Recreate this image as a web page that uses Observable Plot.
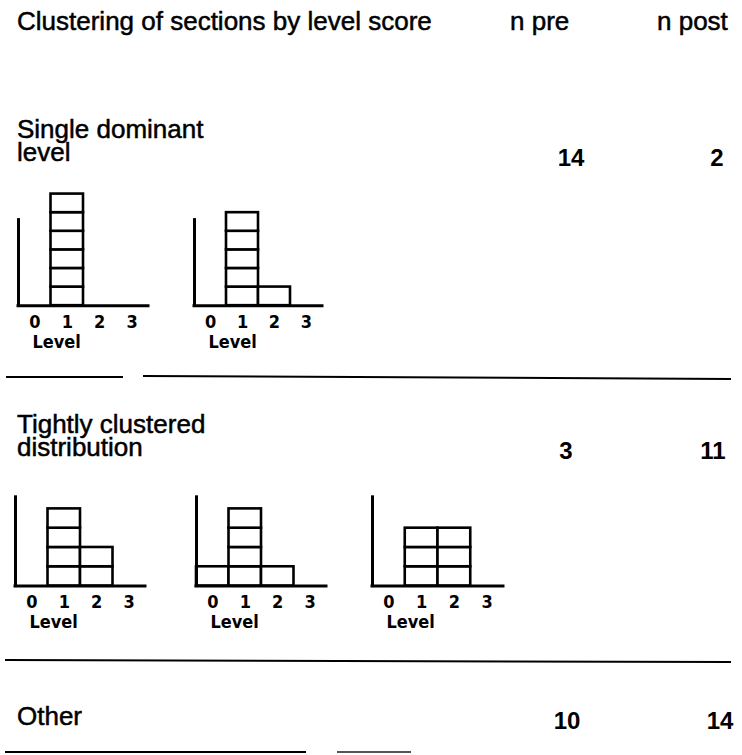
<!DOCTYPE html>
<html>
<head>
<meta charset="utf-8">
<script src="https://cdn.jsdelivr.net/npm/d3@7"></script>
<script src="https://cdn.jsdelivr.net/npm/@observablehq/plot@0.6"></script>
<style>
  html, body { margin: 0; padding: 0; background: #fff; }
  #page { position: relative; width: 742px; height: 755px; overflow: hidden; background: #fff; }
  .t { position: absolute; font-family: "Liberation Sans", Arial, sans-serif; font-size: 26px; line-height: 23px; color: #000; white-space: pre; -webkit-text-stroke: 0.5px #000; }
  .num { position: absolute; font-family: "Liberation Sans", Arial, sans-serif; font-weight: bold; font-size: 24px; line-height: 24px; color: #000; transform: translateX(-50%); }
  .rule { position: absolute; height: 0; border-top: 2.5px solid #000; transform-origin: 0 0; }
</style>
</head>
<body>
<div id="page"></div>
<script>
// ---- data ----
const title = "Clustering of sections by level score";
const colHeaders = ["n pre", "n post"];
const rowLabels = ["Single dominant\nlevel", "Tightly clustered\ndistribution", "Other"];
const nPre = [14, 3, 10];
const nPost = [2, 11, 14];
const levels = [0, 1, 2, 3];
const levelLabel = "Level";
const histSingleA = [0, 6, 0, 0];
const histSingleB = [0, 5, 1, 0];
const histTightA = [0, 4, 2, 0];
const histTightB = [1, 4, 1, 0];
const histTightC = [0, 3, 3, 0];

// ---- layout ----
const page = document.getElementById("page");
function addText(cls, txt, left, top) {
  const d = document.createElement("div");
  d.className = cls; d.textContent = txt;
  d.style.left = left + "px"; d.style.top = top + "px";
  page.appendChild(d);
  return d;
}
function addRule(x1, y1, x2, y2, color) {
  const d = document.createElement("div");
  d.className = "rule";
  const len = Math.hypot(x2 - x1, y2 - y1);
  d.style.left = x1 + "px"; d.style.top = (y1 - 1.25) + "px";
  d.style.width = len + "px";
  d.style.transform = `rotate(${Math.atan2(y2 - y1, x2 - x1)}rad)`;
  if (color) d.style.borderTopColor = color;
  page.appendChild(d);
}

// header
addText("t", title, 17, 10);
addText("t", colHeaders[0], 510, 10);
addText("t", colHeaders[1], 657, 10);

// rows
const rowTops = [118, 413, 705];
const preX = [571, 566, 567];
const postX = [717, 713, 720];
const numTops = [146, 439, 709];
rowLabels.forEach((lab, i) => {
  addText("t", lab, 17, rowTops[i]);
  addText("num", String(nPre[i]), preX[i], numTops[i]);
  addText("num", String(nPost[i]), postX[i], numTops[i]);
});

// separators
addRule(6, 377, 123, 377);
addRule(143, 376, 731, 379);
addRule(5, 660, 731, 662);
addRule(5, 752, 306, 752);
addRule(337, 752, 411, 752, "#555");

// ---- histograms ----
const tickFont = "'Liberation Sans Narrow', 'DejaVu Sans Condensed', 'Liberation Sans', sans-serif";
function hist(counts, axisX, baseline, bw, unit) {
  const boxes = counts.flatMap((c, level) => d3.range(1, c + 1).map(k => ({level, k})));
  const ml = 6, mr = 6, mt = 4, mb = 56, ymax = 6.3, axisTop = 4.6;
  const width = ml + 4 * bw + mr;
  const height = mt + ymax * unit + mb;
  const svg = Plot.plot({
    width, height,
    marginLeft: ml, marginRight: mr, marginTop: mt, marginBottom: mb,
    x: {domain: [-0.5, 3.5], axis: null},
    y: {domain: [0, ymax], axis: null},
    style: {background: "transparent", overflow: "visible"},
    marks: [
      Plot.rect(boxes, {
        x1: d => d.level - 0.5, x2: d => d.level + 0.5,
        y1: d => d.k - 1, y2: d => d.k,
        fill: "white", stroke: "black", strokeWidth: 2.6
      }),
      Plot.ruleX([-0.5], {y1: 0, y2: axisTop, stroke: "black", strokeWidth: 3, strokeLinecap: "square"}),
      Plot.ruleY([0], {x1: -0.5, x2: 3.5, stroke: "black", strokeWidth: 3, strokeLinecap: "square"}),
      Plot.text(levels, {
        x: d => d, y: () => 0, text: d => String(d),
        dy: 22, lineAnchor: "bottom",
        fontSize: 18, fontWeight: "bold", fontFamily: tickFont, fill: "black"
      }),
      Plot.text([levelLabel], {
        x: () => -0.5, y: () => 0, text: d => d,
        dx: 14, dy: 42, textAnchor: "start", lineAnchor: "bottom",
        fontSize: 18, fontWeight: "bold", fontFamily: tickFont, fill: "black"
      })
    ]
  });
  svg.style.position = "absolute";
  svg.style.left = (axisX - ml) + "px";
  svg.style.top = (baseline - mt - ymax * unit) + "px";
  page.appendChild(svg);
}

hist(histSingleA, 18, 305, 32.5, 18.6);
hist(histSingleB, 194, 305, 32, 18.6);
hist(histTightA, 15, 586, 32.5, 19.3);
hist(histTightB, 196, 586, 32.5, 19.3);
hist(histTightC, 372, 586, 32.75, 19.3);
</script>
</body>
</html>
